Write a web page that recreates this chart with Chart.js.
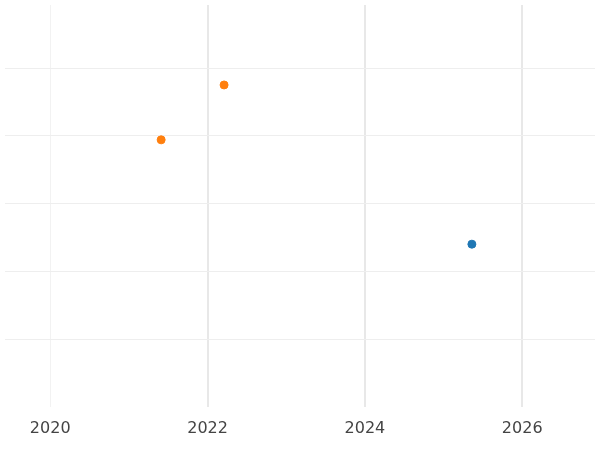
<!DOCTYPE html>
<html>
<head>
<script src="https://cdn.jsdelivr.net/npm/chart.js@4"></script>
<style>
  html, body { margin: 0; padding: 0; background: #fff; }
  #wrap { width: 600px; height: 450px; }
</style>
</head>
<body>
<div id="wrap"><canvas id="c"></canvas></div>
<script>
const xTicks = [2020, 2022, 2024, 2026];
const yTicks = [1, 2, 3, 4, 5];
const orangeX = [2021.41, 2022.21];
const orangeY = [3.94, 4.75];
const blueX = [2025.36];
const blueY = [2.40];

const toPoints = (xs, ys) => xs.map((x, i) => ({ x: x, y: ys[i] }));

new Chart(document.getElementById('c'), {
  type: 'scatter',
  data: {
    datasets: [
      { data: toPoints(orangeX, orangeY), backgroundColor: '#ff7f0e', borderColor: '#ff7f0e', pointRadius: 4 },
      { data: toPoints(blueX, blueY), backgroundColor: '#1f77b4', borderColor: '#1f77b4', pointRadius: 4 }
    ]
  },
  options: {
    responsive: true,
    maintainAspectRatio: false,
    animation: false,
    layout: { padding: { left: -5, right: -5, top: -5, bottom: 0 } },
    plugins: { legend: { display: false }, tooltip: { enabled: false } },
    scales: {
      x: {
        min: 2019.425,
        max: 2026.925,
        afterBuildTicks: axis => { axis.ticks = xTicks.map(v => ({ value: v })); },
        border: { display: false },
        grid: {
          color: ctx => ctx.tick && ctx.tick.value === 2020 ? '#f2f2f2' : '#e8e8e8',
          lineWidth: ctx => ctx.tick && ctx.tick.value === 2020 ? 1 : 2,
          drawTicks: false
        },
        ticks: {
          color: '#444',
          font: { family: 'DejaVu Sans', size: 16 },
          padding: 12,
          callback: v => String(v)
        }
      },
      y: {
        min: 0,
        max: 5.93,
        afterBuildTicks: axis => { axis.ticks = yTicks.map(v => ({ value: v })); },
        border: { display: false },
        grid: { color: '#eeeeee', lineWidth: 1, drawTicks: false },
        ticks: { display: false }
      }
    }
  }
});
</script>
</body>
</html>
